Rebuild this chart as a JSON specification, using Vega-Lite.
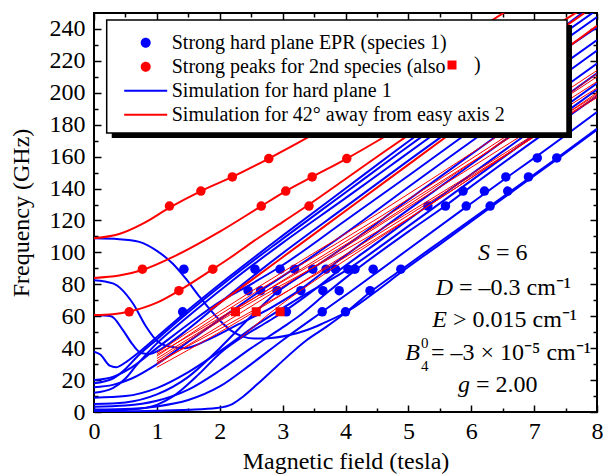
{
"$schema": "https://vega.github.io/schema/vega-lite/v6.json",
"width": 503, "height": 399,
"autosize": {"type": "none"},
"padding": {"left": 94, "top": 13, "right": 6, "bottom": 63},
"background": "white",
"config": {
  "view": {"stroke": "black", "strokeWidth": 2},
  "axis": {"domain": false, "grid": false, "labelFont": "Liberation Serif", "labelFontSize": 24, "labelColor": "black", "titleFont": "Liberation Serif", "titleFontSize": 24, "titleFontWeight": "normal", "titleColor": "black", "tickColor": "black", "tickWidth": 1.5, "labelFlush": false, "labelOverlap": false}
},
"datasets": {
  "pts": [
    {"s":"P1","B":1.43,"f":89.5},{"s":"P1","B":1.41,"f":62.8},
    {"s":"P1","B":2.56,"f":89.5},{"s":"P1","B":2.96,"f":89.5},{"s":"P1","B":3.19,"f":89.5},{"s":"P1","B":3.48,"f":89.5},{"s":"P1","B":3.69,"f":89.5},{"s":"P1","B":3.84,"f":89.5},{"s":"P1","B":4.04,"f":89.5},{"s":"P1","B":4.15,"f":89.5},{"s":"P1","B":4.44,"f":89.5},{"s":"P1","B":4.88,"f":89.5},
    {"s":"P1","B":2.45,"f":76},{"s":"P1","B":2.65,"f":76},{"s":"P1","B":2.91,"f":76},{"s":"P1","B":3.29,"f":76},{"s":"P1","B":3.64,"f":76},{"s":"P1","B":3.9,"f":76},{"s":"P1","B":4.39,"f":76},
    {"s":"P1","B":3.06,"f":62.8},{"s":"P1","B":3.63,"f":62.8},{"s":"P1","B":4.0,"f":62.8},
    {"s":"P1","B":5.31,"f":129},{"s":"P1","B":5.59,"f":129},{"s":"P1","B":5.92,"f":129},{"s":"P1","B":6.3,"f":129},
    {"s":"P1","B":5.87,"f":138.4},{"s":"P1","B":6.21,"f":138.4},{"s":"P1","B":6.58,"f":138.4},
    {"s":"P1","B":6.55,"f":147.3},{"s":"P1","B":6.91,"f":147.3},
    {"s":"P1","B":7.05,"f":159.2},{"s":"P1","B":7.36,"f":159.2},
    {"s":"P2","B":0.56,"f":62.8},{"s":"P2","B":0.77,"f":89.5},{"s":"P2","B":1.35,"f":76},{"s":"P2","B":1.89,"f":89.5},
    {"s":"P2","B":1.2,"f":129},{"s":"P2","B":1.7,"f":138.4},{"s":"P2","B":2.2,"f":147.3},{"s":"P2","B":2.78,"f":158.8},
    {"s":"P2","B":2.66,"f":129},{"s":"P2","B":3.05,"f":138.4},{"s":"P2","B":3.47,"f":147.3},{"s":"P2","B":4.02,"f":158.8},{"s":"P2","B":3.42,"f":129}
  ],
  "sq": [{"kind":"sq","B":2.25,"f":62.8},{"kind":"sq","B":2.58,"f":62.8},{"kind":"sq","B":2.96,"f":62.8}],
  "blue": [
    {"s":"L1","id":"b0","B":0,"f":0},{"s":"L1","id":"b0","B":0.5,"f":0.3},{"s":"L1","id":"b0","B":1,"f":0.8},{"s":"L1","id":"b0","B":1.5,"f":1.4},{"s":"L1","id":"b0","B":1.95,"f":2.5},{"s":"L1","id":"b0","B":2.2,"f":5},{"s":"L1","id":"b0","B":2.37,"f":9.6},{"s":"L1","id":"b0","B":2.6,"f":17.5},{"s":"L1","id":"b0","B":2.9,"f":28.4},{"s":"L1","id":"b0","B":3.38,"f":45},{"s":"L1","id":"b0","B":3.7,"f":53.5},{"s":"L1","id":"b0","B":4.02,"f":62.8},{"s":"L1","id":"b0","B":4.39,"f":75},{"s":"L1","id":"b0","B":4.88,"f":89},{"s":"L1","id":"b0","B":5.5,"f":106.5},{"s":"L1","id":"b0","B":6.3,"f":129},{"s":"L1","id":"b0","B":7.36,"f":159},{"s":"L1","id":"b0","B":8,"f":177.5},
    {"s":"L1","id":"b1","B":0,"f":108.8},{"s":"L1","id":"b1","B":0.4,"f":108.3},{"s":"L1","id":"b1","B":0.72,"f":106.6},{"s":"L1","id":"b1","B":1,"f":101},{"s":"L1","id":"b1","B":1.25,"f":93},{"s":"L1","id":"b1","B":1.45,"f":84},{"s":"L1","id":"b1","B":1.68,"f":72.2},{"s":"L1","id":"b1","B":1.85,"f":64},{"s":"L1","id":"b1","B":2.05,"f":55.5},{"s":"L1","id":"b1","B":2.2,"f":50.5},{"s":"L1","id":"b1","B":2.37,"f":47.2},{"s":"L1","id":"b1","B":2.55,"f":46},{"s":"L1","id":"b1","B":2.74,"f":46.1},{"s":"L1","id":"b1","B":3.11,"f":48.2},{"s":"L1","id":"b1","B":3.4,"f":51.5},{"s":"L1","id":"b1","B":3.64,"f":55.5},{"s":"L1","id":"b1","B":4.07,"f":63.9},{"s":"L1","id":"b1","B":4.5,"f":76},{"s":"L1","id":"b1","B":4.9,"f":88},{"s":"L1","id":"b1","B":5.5,"f":105},{"s":"L1","id":"b1","B":6.3,"f":128},{"s":"L1","id":"b1","B":7.36,"f":158.3},{"s":"L1","id":"b1","B":8,"f":176.8},
    {"s":"L1","id":"bA","B":0,"f":1.5},{"s":"L1","id":"bA","B":0.6,"f":2},{"s":"L1","id":"bA","B":1,"f":3.5},{"s":"L1","id":"bA","B":1.5,"f":7.5},{"s":"L1","id":"bA","B":2,"f":16},{"s":"L1","id":"bA","B":2.5,"f":30},{"s":"L1","id":"bA","B":3,"f":45},{"s":"L1","id":"bA","B":3.63,"f":62.8},{"s":"L1","id":"bA","B":4.1,"f":76},{"s":"L1","id":"bA","B":4.5,"f":87.5},{"s":"L1","id":"bA","B":5,"f":102},{"s":"L1","id":"bA","B":5.92,"f":128.5},{"s":"L1","id":"bA","B":6.55,"f":146.5},{"s":"L1","id":"bA","B":7.05,"f":160.5},{"s":"L1","id":"bA","B":8,"f":188},
    {"s":"L1","id":"bC","B":0,"f":3.3},{"s":"L1","id":"bC","B":0.5,"f":4},{"s":"L1","id":"bC","B":1,"f":7},{"s":"L1","id":"bC","B":1.5,"f":14},{"s":"L1","id":"bC","B":2,"f":26},{"s":"L1","id":"bC","B":2.5,"f":40},{"s":"L1","id":"bC","B":3,"f":53},{"s":"L1","id":"bC","B":3.24,"f":59.5},{"s":"L1","id":"bC","B":3.7,"f":74.5},{"s":"L1","id":"bC","B":4.18,"f":89.5},{"s":"L1","id":"bC","B":5,"f":113},{"s":"L1","id":"bC","B":5.6,"f":129.5},{"s":"L1","id":"bC","B":5.87,"f":137.5},{"s":"L1","id":"bC","B":7,"f":170},{"s":"L1","id":"bC","B":8,"f":198},
    {"s":"L1","id":"bD","B":0,"f":0.6},{"s":"L1","id":"bD","B":0.6,"f":1.5},{"s":"L1","id":"bD","B":1,"f":4.5},{"s":"L1","id":"bD","B":1.25,"f":9.6},{"s":"L1","id":"bD","B":1.68,"f":24.2},{"s":"L1","id":"bD","B":2,"f":36.7},{"s":"L1","id":"bD","B":2.32,"f":46},{"s":"L1","id":"bD","B":2.8,"f":57.5},{"s":"L1","id":"bD","B":3.06,"f":64},{"s":"L1","id":"bD","B":3.5,"f":76.5},{"s":"L1","id":"bD","B":3.84,"f":87},{"s":"L1","id":"bD","B":4.5,"f":106},{"s":"L1","id":"bD","B":5,"f":120.5},{"s":"L1","id":"bD","B":6,"f":149},{"s":"L1","id":"bD","B":7,"f":177.5},{"s":"L1","id":"bD","B":8,"f":206},
    {"s":"L1","id":"m3","B":0,"f":5},{"s":"L1","id":"m3","B":0.5,"f":6},{"s":"L1","id":"m3","B":1,"f":11},{"s":"L1","id":"m3","B":1.5,"f":22},{"s":"L1","id":"m3","B":2,"f":40},{"s":"L1","id":"m3","B":2.5,"f":60},{"s":"L1","id":"m3","B":2.91,"f":75},{"s":"L1","id":"m3","B":3.48,"f":90},{"s":"L1","id":"m3","B":4,"f":104},{"s":"L1","id":"m3","B":5,"f":133},{"s":"L1","id":"m3","B":6,"f":161.5},{"s":"L1","id":"m3","B":7,"f":190},{"s":"L1","id":"m3","B":8,"f":218.3},
    {"s":"L1","id":"m2","B":0,"f":15.5},{"s":"L1","id":"m2","B":0.3,"f":17},{"s":"L1","id":"m2","B":0.6,"f":21},{"s":"L1","id":"m2","B":1,"f":30},{"s":"L1","id":"m2","B":1.5,"f":44},{"s":"L1","id":"m2","B":2,"f":58},{"s":"L1","id":"m2","B":2.65,"f":76},{"s":"L1","id":"m2","B":3.19,"f":90},{"s":"L1","id":"m2","B":4,"f":112},{"s":"L1","id":"m2","B":5,"f":141},{"s":"L1","id":"m2","B":6,"f":169.5},{"s":"L1","id":"m2","B":7,"f":198},{"s":"L1","id":"m2","B":8,"f":226.5},
    {"s":"L1","id":"m1","B":0,"f":20},{"s":"L1","id":"m1","B":0.3,"f":22},{"s":"L1","id":"m1","B":0.6,"f":28},{"s":"L1","id":"m1","B":1,"f":40},{"s":"L1","id":"m1","B":1.5,"f":55},{"s":"L1","id":"m1","B":2,"f":69},{"s":"L1","id":"m1","B":2.45,"f":79},{"s":"L1","id":"m1","B":2.96,"f":91},{"s":"L1","id":"m1","B":4,"f":120},{"s":"L1","id":"m1","B":5,"f":148},{"s":"L1","id":"m1","B":6,"f":176.5},{"s":"L1","id":"m1","B":7,"f":205},{"s":"L1","id":"m1","B":8,"f":233},
    {"s":"L1","id":"k1","B":0,"f":37.8},{"s":"L1","id":"k1","B":0.1,"f":36},{"s":"L1","id":"k1","B":0.25,"f":29},{"s":"L1","id":"k1","B":0.35,"f":28},{"s":"L1","id":"k1","B":0.5,"f":31},{"s":"L1","id":"k1","B":0.67,"f":36},{"s":"L1","id":"k1","B":1,"f":47},{"s":"L1","id":"k1","B":1.41,"f":61},{"s":"L1","id":"k1","B":2.16,"f":85},{"s":"L1","id":"k1","B":3,"f":110.5},{"s":"L1","id":"k1","B":4,"f":140},{"s":"L1","id":"k1","B":4.81,"f":164},{"s":"L1","id":"k1","B":6,"f":198.5},{"s":"L1","id":"k1","B":7,"f":227.5},{"s":"L1","id":"k1","B":7.8,"f":251},
    {"s":"L1","id":"k2","B":0,"f":18},{"s":"L1","id":"k2","B":0.3,"f":21},{"s":"L1","id":"k2","B":0.5,"f":27},{"s":"L1","id":"k2","B":0.67,"f":34},{"s":"L1","id":"k2","B":1,"f":45.5},{"s":"L1","id":"k2","B":1.41,"f":59.5},{"s":"L1","id":"k2","B":2.16,"f":83.5},{"s":"L1","id":"k2","B":3,"f":108.5},{"s":"L1","id":"k2","B":4,"f":137.5},{"s":"L1","id":"k2","B":4.81,"f":161},{"s":"L1","id":"k2","B":6,"f":195},{"s":"L1","id":"k2","B":7,"f":224},{"s":"L1","id":"k2","B":8,"f":252},
    {"s":"L1","id":"k3","B":0,"f":60.7},{"s":"L1","id":"k3","B":0.27,"f":60},{"s":"L1","id":"k3","B":0.46,"f":51.3},{"s":"L1","id":"k3","B":0.62,"f":42},{"s":"L1","id":"k3","B":0.75,"f":37},{"s":"L1","id":"k3","B":0.88,"f":36.3},{"s":"L1","id":"k3","B":1,"f":38},{"s":"L1","id":"k3","B":1.2,"f":43},{"s":"L1","id":"k3","B":1.5,"f":52},{"s":"L1","id":"k3","B":2.16,"f":73.5},{"s":"L1","id":"k3","B":3,"f":99.5},{"s":"L1","id":"k3","B":4,"f":128.5},{"s":"L1","id":"k3","B":5,"f":157.5},{"s":"L1","id":"k3","B":6,"f":186},{"s":"L1","id":"k3","B":7,"f":214},{"s":"L1","id":"k3","B":8,"f":241},
    {"s":"L1","id":"m4","B":0,"f":82.6},{"s":"L1","id":"m4","B":0.3,"f":80.6},{"s":"L1","id":"m4","B":0.62,"f":68},{"s":"L1","id":"m4","B":0.83,"f":53.4},{"s":"L1","id":"m4","B":0.99,"f":45},{"s":"L1","id":"m4","B":1.2,"f":41},{"s":"L1","id":"m4","B":1.45,"f":40},{"s":"L1","id":"m4","B":1.8,"f":45},{"s":"L1","id":"m4","B":2.3,"f":55},{"s":"L1","id":"m4","B":2.8,"f":65},{"s":"L1","id":"m4","B":3.29,"f":77},{"s":"L1","id":"m4","B":3.69,"f":89},{"s":"L1","id":"m4","B":4.5,"f":112.5},{"s":"L1","id":"m4","B":5.5,"f":141},{"s":"L1","id":"m4","B":6.5,"f":169.5},{"s":"L1","id":"m4","B":7.5,"f":198},{"s":"L1","id":"m4","B":8,"f":212.3},
    {"s":"L1","id":"k4","B":0,"f":12},{"s":"L1","id":"k4","B":0.3,"f":15},{"s":"L1","id":"k4","B":0.5,"f":21},{"s":"L1","id":"k4","B":0.67,"f":29},{"s":"L1","id":"k4","B":1,"f":43},{"s":"L1","id":"k4","B":1.41,"f":57},{"s":"L1","id":"k4","B":2.16,"f":81},{"s":"L1","id":"k4","B":3,"f":106},{"s":"L1","id":"k4","B":4,"f":134},{"s":"L1","id":"k4","B":4.81,"f":157},{"s":"L1","id":"k4","B":6,"f":191},{"s":"L1","id":"k4","B":7,"f":219.5},{"s":"L1","id":"k4","B":8,"f":247.5},
    {"s":"L1","id":"m6","B":0,"f":9},{"s":"L1","id":"m6","B":0.5,"f":10},{"s":"L1","id":"m6","B":1,"f":15},{"s":"L1","id":"m6","B":1.5,"f":25},{"s":"L1","id":"m6","B":2,"f":38},{"s":"L1","id":"m6","B":2.6,"f":55},{"s":"L1","id":"m6","B":3.2,"f":70},{"s":"L1","id":"m6","B":4.04,"f":89.5},{"s":"L1","id":"m6","B":5,"f":116.5},{"s":"L1","id":"m6","B":6,"f":145},{"s":"L1","id":"m6","B":7,"f":173.5},{"s":"L1","id":"m6","B":8,"f":202}
  ],
  "red": [
    {"s":"L2","id":"r1","B":0,"f":108.8},{"s":"L2","id":"r1","B":0.4,"f":111.5},{"s":"L2","id":"r1","B":0.8,"f":118.5},{"s":"L2","id":"r1","B":1.2,"f":128},{"s":"L2","id":"r1","B":1.7,"f":138.4},{"s":"L2","id":"r1","B":2.2,"f":147.3},{"s":"L2","id":"r1","B":2.78,"f":158.8},{"s":"L2","id":"r1","B":3.4,"f":172},{"s":"L2","id":"r1","B":4,"f":186},{"s":"L2","id":"r1","B":5,"f":211},{"s":"L2","id":"r1","B":6,"f":237},{"s":"L2","id":"r1","B":6.55,"f":251},
    {"s":"L2","id":"r2","B":0,"f":84},{"s":"L2","id":"r2","B":0.4,"f":85.5},{"s":"L2","id":"r2","B":0.77,"f":89},{"s":"L2","id":"r2","B":1.3,"f":98},{"s":"L2","id":"r2","B":2,"f":113},{"s":"L2","id":"r2","B":2.66,"f":129},{"s":"L2","id":"r2","B":3.05,"f":138.4},{"s":"L2","id":"r2","B":3.47,"f":147.3},{"s":"L2","id":"r2","B":4.02,"f":158.8},{"s":"L2","id":"r2","B":4.6,"f":172},{"s":"L2","id":"r2","B":5.5,"f":194},{"s":"L2","id":"r2","B":6.5,"f":220},{"s":"L2","id":"r2","B":7.5,"f":246},{"s":"L2","id":"r2","B":7.7,"f":251},
    {"s":"L2","id":"r3","B":0,"f":60.7},{"s":"L2","id":"r3","B":0.3,"f":61.2},{"s":"L2","id":"r3","B":0.57,"f":63},{"s":"L2","id":"r3","B":1,"f":68.5},{"s":"L2","id":"r3","B":1.35,"f":76},{"s":"L2","id":"r3","B":1.89,"f":89.5},{"s":"L2","id":"r3","B":2.16,"f":96.5},{"s":"L2","id":"r3","B":2.5,"f":106},{"s":"L2","id":"r3","B":3,"f":119},{"s":"L2","id":"r3","B":3.42,"f":130},{"s":"L2","id":"r3","B":4,"f":146},{"s":"L2","id":"r3","B":4.65,"f":164},{"s":"L2","id":"r3","B":5.5,"f":187},{"s":"L2","id":"r3","B":6.5,"f":214},{"s":"L2","id":"r3","B":7,"f":228},{"s":"L2","id":"r3","B":7.8,"f":250},
    {"s":"L2","id":"r4","B":1.84,"f":63.8},{"s":"L2","id":"r4","B":2.5,"f":82.5},{"s":"L2","id":"r4","B":3,"f":97},{"s":"L2","id":"r4","B":4.23,"f":132.7},{"s":"L2","id":"r4","B":5,"f":155},{"s":"L2","id":"r4","B":6,"f":184},{"s":"L2","id":"r4","B":7,"f":213},{"s":"L2","id":"r4","B":8,"f":242}
  ],
  "thin": [
    {"s":"L2","id":"t1","B":1,"f":28},{"s":"L2","id":"t1","B":2,"f":50},{"s":"L2","id":"t1","B":4.5,"f":111},{"s":"L2","id":"t1","B":8,"f":197},
    {"s":"L2","id":"t2","B":1,"f":30},{"s":"L2","id":"t2","B":2,"f":54},{"s":"L2","id":"t2","B":4.5,"f":116},{"s":"L2","id":"t2","B":8,"f":203},
    {"s":"L2","id":"t3","B":1,"f":32},{"s":"L2","id":"t3","B":2,"f":57},{"s":"L2","id":"t3","B":4.5,"f":113},{"s":"L2","id":"t3","B":8,"f":199},
    {"s":"L2","id":"t4","B":1,"f":33.5},{"s":"L2","id":"t4","B":2,"f":58},{"s":"L2","id":"t4","B":4.5,"f":119},{"s":"L2","id":"t4","B":8,"f":207},
    {"s":"L2","id":"t5","B":1,"f":35},{"s":"L2","id":"t5","B":2,"f":61},{"s":"L2","id":"t5","B":4.5,"f":121},{"s":"L2","id":"t5","B":8,"f":210},
    {"s":"L2","id":"t6","B":1,"f":36},{"s":"L2","id":"t6","B":2,"f":59},{"s":"L2","id":"t6","B":4.5,"f":117},{"s":"L2","id":"t6","B":8,"f":212},
    {"s":"L2","id":"t7","B":1,"f":37},{"s":"L2","id":"t7","B":2,"f":63},{"s":"L2","id":"t7","B":4.5,"f":124},{"s":"L2","id":"t7","B":8,"f":214},
    {"s":"L2","id":"t8","B":1,"f":31},{"s":"L2","id":"t8","B":2,"f":52},{"s":"L2","id":"t8","B":4.5,"f":109},{"s":"L2","id":"t8","B":8,"f":200},
    {"s":"L2","id":"t9","B":2.32,"f":46},{"s":"L2","id":"t9","B":2.8,"f":62},{"s":"L2","id":"t9","B":3.5,"f":82},{"s":"L2","id":"t9","B":4.5,"f":108},{"s":"L2","id":"t9","B":8,"f":198}
  ]
},
"layer": [
  {
    "data": {"name": "blue"},
    "mark": {"type": "line", "strokeWidth": 2, "interpolate": "monotone", "clip": true},
    "encoding": {
      "x": {"field": "B", "type": "quantitative", "scale": {"domain": [0, 8], "nice": false},
            "axis": {"orient": "bottom", "values": [0,1,2,3,4,5,6,7,8], "format": "d", "tickSize": -7, "labelPadding": 14, "title": "Magnetic field (tesla)", "titlePadding": 6}},
      "y": {"field": "f", "type": "quantitative", "scale": {"domain": [0, 250], "nice": false},
            "axis": {"orient": "left", "values": [0,20,40,60,80,100,120,140,160,180,200,220,240], "format": "d", "tickSize": -7, "labelPadding": 16, "title": "Frequency (GHz)", "titlePadding": 16}},
      "color": {"field": "s", "type": "nominal",
        "scale": {"domain": ["P1","P2","L1","L2"], "range": ["#0000ff","#ff0000","#0000ff","#ff0000"]},
        "legend": {
          "orient": "none", "legendX": 26.7, "legendY": 4.7, "title": null,
          "labelExpr": "datum.value == 'P1' ? 'Strong hard plane EPR (species 1)' : datum.value == 'P2' ? 'Strong peaks for 2nd species (also' : datum.value == 'L1' ? 'Simulation for hard plane 1' : 'Simulation for 42\u00b0 away from easy axis 2'",
          "labelFont": "Liberation Serif", "labelFontSize": 20, "labelColor": "black", "labelLimit": 1000,
          "symbolSize": 1849, "symbolStrokeWidth": 2,
          "fillColor": "transparent", "strokeColor": "transparent",
          "padding": 15, "rowPadding": 4, "labelOffset": 16,
          "encode": {
            "symbols": {"update": {
            "shape": {"signal": "(datum.value == 'P1' || datum.value == 'P2') ? 'M0.2326,0A0.2326,0.2326,0,1,1,-0.2326,0A0.2326,0.2326,0,1,1,0.2326,0Z' : 'M-1,0L1,0'"},
            "fill": {"signal": "datum.value == 'P1' ? '#0000ff' : datum.value == 'P2' ? '#ff0000' : 'transparent'"},
            "stroke": {"signal": "(datum.value == 'P1' || datum.value == 'L1') ? '#0000ff' : '#ff0000'"},
            "strokeWidth": {"signal": "(datum.value == 'P1' || datum.value == 'P2') ? 0 : 2"},
            "opacity": {"value": 1}
          }}}
        }},
      "detail": {"field": "id"}
    }
  },
  {
    "data": {"name": "pts"},
    "mark": {"type": "point", "filled": true, "shape": "circle", "size": 90, "opacity": 1},
    "encoding": {
      "x": {"field": "B", "type": "quantitative", "axis": {"orient": "top", "values": [0.5,1.5,2.5,3.5,4.5,5.5,6.5,7.5], "tickSize": -4, "labels": false, "title": null}},
      "y": {"field": "f", "type": "quantitative", "axis": {"orient": "right", "values": [10,30,50,70,90,110,130,150,170,190,210,230], "tickSize": -4, "labels": false, "title": null}},
      "color": {"field": "s", "type": "nominal"}
    }
  },
  {
    "data": {"name": "red"},
    "mark": {"type": "line", "strokeWidth": 2, "interpolate": "monotone", "clip": true},
    "encoding": {
      "x": {"field": "B", "type": "quantitative", "axis": {"orient": "top", "values": [0,1,2,3,4,5,6,7,8], "tickSize": -7, "labels": false, "title": null}},
      "y": {"field": "f", "type": "quantitative", "axis": {"orient": "right", "values": [0,20,40,60,80,100,120,140,160,180,200,220,240], "tickSize": -7, "labels": false, "title": null}},
      "color": {"field": "s", "type": "nominal"},
      "detail": {"field": "id"}
    }
  },
  {
    "data": {"name": "thin"},
    "mark": {"type": "line", "strokeWidth": 1, "interpolate": "monotone", "clip": true},
    "encoding": {
      "x": {"field": "B", "type": "quantitative", "axis": {"orient": "bottom", "values": [0.5,1.5,2.5,3.5,4.5,5.5,6.5,7.5], "tickSize": -4, "labels": false, "title": null}},
      "y": {"field": "f", "type": "quantitative", "axis": {"orient": "left", "values": [10,30,50,70,90,110,130,150,170,190,210,230], "tickSize": -4, "labels": false, "title": null}},
      "color": {"field": "s", "type": "nominal"},
      "detail": {"field": "id"}
    }
  },
  {
    "data": {"name": "sq"},
    "mark": {"type": "point", "filled": true, "size": 81, "color": "#ff0000", "opacity": 1},
    "encoding": {
      "x": {"field": "B", "type": "quantitative", "axis": null},
      "y": {"field": "f", "type": "quantitative", "axis": null},
      "shape": {"field": "kind", "type": "nominal", "scale": {"domain": ["sq"], "range": ["square"]},
        "legend": {"orient": "none", "legendX": 348, "legendY": 42, "title": null, "labelExpr": "')'",
          "labelFont": "Liberation Serif", "labelFontSize": 20, "labelColor": "black", "labelOffset": 12,
          "symbolSize": 81, "symbolType": "square", "symbolFillColor": "#ff0000", "symbolStrokeColor": "#ff0000", "symbolStrokeWidth": 0,
          "padding": 0, "fillColor": "transparent", "strokeColor": "transparent",
          "encode": {"symbols": {"update": {"fill": {"value": "#ff0000"}, "stroke": {"value": "#ff0000"}, "opacity": {"value": 1}}}}}}
    }
  },
  {
    "data": {"values": [{}]},
    "mark": {"type": "rect", "color": "black"},
    "encoding": {
      "x": {"datum": 0.282, "type": "quantitative", "axis": null}, "x2": {"datum": 7.602},
      "y": {"datum": 242.5, "type": "quantitative", "axis": null}, "y2": {"datum": 171.7}
    }
  },
  {
    "data": {"values": [{}]},
    "mark": {"type": "rect", "fill": "white", "stroke": "black", "strokeWidth": 1.5},
    "encoding": {
      "x": {"datum": 0.202, "type": "quantitative", "axis": null}, "x2": {"datum": 7.523},
      "y": {"datum": 245.6, "type": "quantitative", "axis": null}, "y2": {"datum": 174.8}
    }
  },
  {"data": {"values": [{}]}, "mark": {"type": "text", "font": "Liberation Serif", "fontSize": 24, "fontStyle": "italic", "align": "right", "baseline": "middle", "color": "black"},
   "encoding": {"x": {"datum": 6.298, "type": "quantitative", "axis": null}, "y": {"datum": 99.4, "type": "quantitative", "axis": null}, "text": {"value": "S"}}},
  {"data": {"values": [{}]}, "mark": {"type": "text", "font": "Liberation Serif", "fontSize": 24, "align": "left", "baseline": "middle", "color": "black"},
   "encoding": {"x": {"datum": 6.393, "type": "quantitative", "axis": null}, "y": {"datum": 99.4, "type": "quantitative", "axis": null}, "text": {"value": "= 6"}}},
  {"data": {"values": [{}]}, "mark": {"type": "text", "font": "Liberation Serif", "fontSize": 24, "fontStyle": "italic", "align": "right", "baseline": "middle", "color": "black"},
   "encoding": {"x": {"datum": 5.71, "type": "quantitative", "axis": null}, "y": {"datum": 77.5, "type": "quantitative", "axis": null}, "text": {"value": "D"}}},
  {"data": {"values": [{}]}, "mark": {"type": "text", "font": "Liberation Serif", "fontSize": 24, "align": "left", "baseline": "middle", "color": "black"},
   "encoding": {"x": {"datum": 5.805, "type": "quantitative", "axis": null}, "y": {"datum": 77.5, "type": "quantitative", "axis": null}, "text": {"value": "= \u20130.3 cm\u207b\u00b9"}}},
  {"data": {"values": [{}]}, "mark": {"type": "text", "font": "Liberation Serif", "fontSize": 24, "fontStyle": "italic", "align": "right", "baseline": "middle", "color": "black"},
   "encoding": {"x": {"datum": 5.614, "type": "quantitative", "axis": null}, "y": {"datum": 57.6, "type": "quantitative", "axis": null}, "text": {"value": "E"}}},
  {"data": {"values": [{}]}, "mark": {"type": "text", "font": "Liberation Serif", "fontSize": 24, "align": "left", "baseline": "middle", "color": "black"},
   "encoding": {"x": {"datum": 5.709, "type": "quantitative", "axis": null}, "y": {"datum": 57.6, "type": "quantitative", "axis": null}, "text": {"value": "> 0.015 cm\u207b\u00b9"}}},
  {"data": {"values": [{}]}, "mark": {"type": "text", "font": "Liberation Serif", "fontSize": 24, "fontStyle": "italic", "align": "right", "baseline": "middle", "color": "black"},
   "encoding": {"x": {"datum": 5.185, "type": "quantitative", "axis": null}, "y": {"datum": 37.0, "type": "quantitative", "axis": null}, "text": {"value": "B"}}},
  {"data": {"values": [{}]}, "mark": {"type": "text", "font": "Liberation Serif", "fontSize": 15, "align": "left", "baseline": "middle", "color": "black"},
   "encoding": {"x": {"datum": 5.2, "type": "quantitative", "axis": null}, "y": {"datum": 43.2, "type": "quantitative", "axis": null}, "text": {"value": "0"}}},
  {"data": {"values": [{}]}, "mark": {"type": "text", "font": "Liberation Serif", "fontSize": 15, "align": "left", "baseline": "middle", "color": "black"},
   "encoding": {"x": {"datum": 5.2, "type": "quantitative", "axis": null}, "y": {"datum": 29.0, "type": "quantitative", "axis": null}, "text": {"value": "4"}}},
  {"data": {"values": [{}]}, "mark": {"type": "text", "font": "Liberation Serif", "fontSize": 24, "align": "left", "baseline": "middle", "color": "black"},
   "encoding": {"x": {"datum": 5.36, "type": "quantitative", "axis": null}, "y": {"datum": 37.0, "type": "quantitative", "axis": null}, "text": {"value": "= \u20133 \u00d7 10\u207b\u2075 cm\u207b\u00b9"}}},
  {"data": {"values": [{}]}, "mark": {"type": "text", "font": "Liberation Serif", "fontSize": 24, "fontStyle": "italic", "align": "right", "baseline": "middle", "color": "black"},
   "encoding": {"x": {"datum": 5.98, "type": "quantitative", "axis": null}, "y": {"datum": 16.9, "type": "quantitative", "axis": null}, "text": {"value": "g"}}},
  {"data": {"values": [{}]}, "mark": {"type": "text", "font": "Liberation Serif", "fontSize": 24, "align": "left", "baseline": "middle", "color": "black"},
   "encoding": {"x": {"datum": 6.075, "type": "quantitative", "axis": null}, "y": {"datum": 16.9, "type": "quantitative", "axis": null}, "text": {"value": "= 2.00"}}}
],
"resolve": {"axis": {"x": "independent", "y": "independent"}}
}
